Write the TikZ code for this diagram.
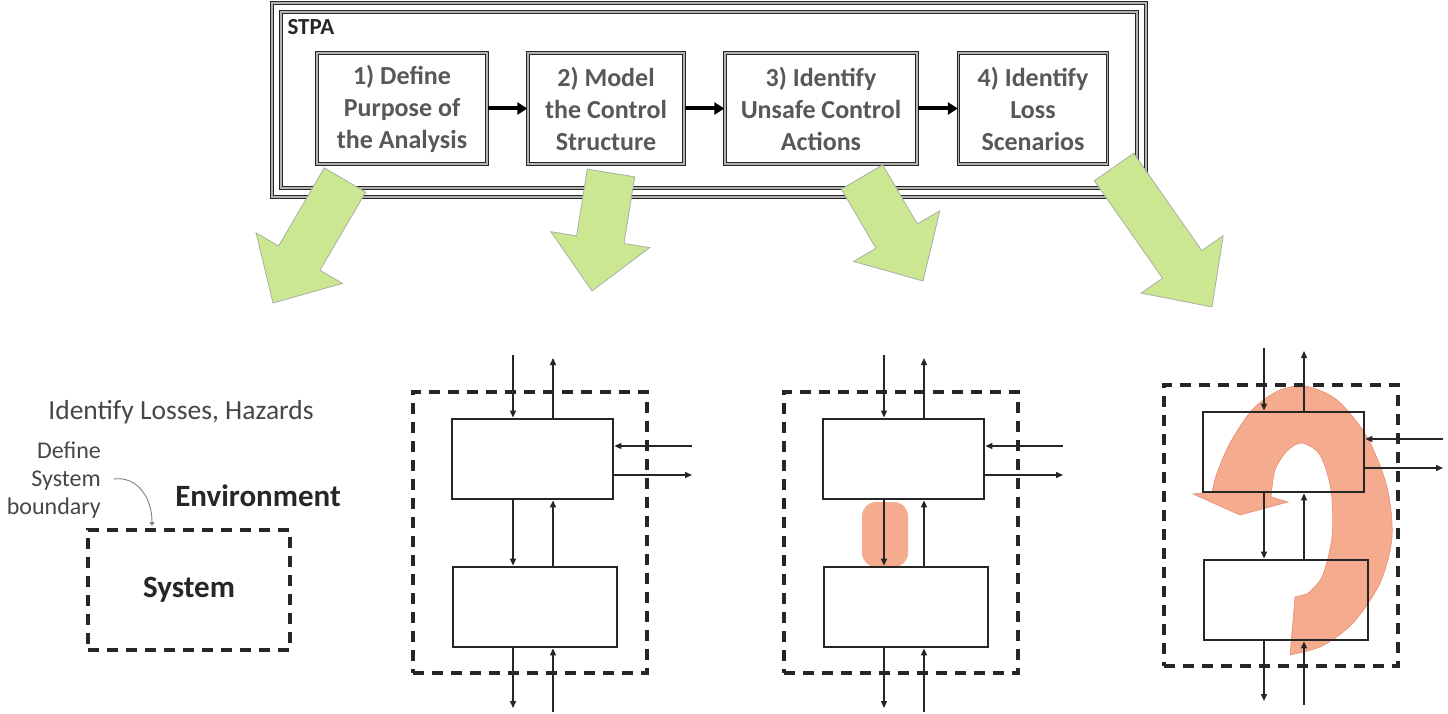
\documentclass[tikz,border=0pt]{standalone}
\usepackage{fontspec}
\setmainfont{Carlito}
\usetikzlibrary{arrows.meta,calc}

\definecolor{leafgreen}{RGB}{203,231,146}
\definecolor{leafedge}{RGB}{170,175,165}
\definecolor{salmon}{RGB}{245,172,142}
\definecolor{salmonedge}{RGB}{230,140,115}
\definecolor{steptext}{RGB}{88,88,88}
\definecolor{ink}{RGB}{38,38,38}
\definecolor{note}{RGB}{70,70,70}

\tikzset{
  framebox/.style={draw=ink, line width=1.3pt, double=gray!60, double distance=1.3pt},
  stepbox/.style={framebox, minimum height=111pt, text=steptext,
    font=\fontsize{26}{32}\selectfont\bfseries, align=center, inner sep=0pt},
  flow/.style={draw=black, line width=4pt, -{Triangle[length=10pt,width=12pt]}},
  ctlbox/.style={draw=ink, line width=2.8pt, inner sep=0pt},
  sysbound/.style={draw=ink, line width=3.2pt, dash pattern=on 11pt off 8pt, inner sep=0pt},
  sig/.style={draw=ink, line width=1.4pt, -{Triangle[length=7pt,width=6pt]}},
  leaf/.style={fill=leafgreen, draw=leafedge, line width=0.8pt, line join=miter},
  notetext/.style={text=note, font=\fontsize{24}{28}\selectfont},
}

% thick green block arrow from tail centre #1 to tip #2
\newcommand{\leafarrow}[2]{%
  \coordinate (#1base) at ($(#2)!52pt!(#1)$);
  \path[leaf] ($(#1)!24pt!90:(#2)$) -- ($(#1base)!24pt!90:(#2)$)
    -- ($(#1base)!50pt!90:(#2)$) -- (#2) -- ($(#1base)!50pt!-90:(#2)$)
    -- ($(#1base)!24pt!-90:(#2)$) -- ($(#1)!24pt!-90:(#2)$) -- cycle;
}

% controller / controlled process pair inside a dashed boundary
\newcommand{\ctlpanel}[3]{%
  \begin{scope}[shift={(#2,#3)}]
    \node[sysbound, minimum width=234pt, minimum height=281pt] (#1sys) at (530,532.5) {};
    \node[ctlbox, minimum width=161pt, minimum height=80pt] (#1up) at (532.5,459) {};
    \node[ctlbox, minimum width=164pt, minimum height=80pt] (#1lo) at (535,607) {};
    \coordinate (#1topin) at (513,355);
    \coordinate (#1topout) at (553,358);
    \coordinate (#1botout) at (513,708);
    \coordinate (#1botin) at (553,712);
    \coordinate (#1rin) at (692,446);
    \coordinate (#1rout) at (692,475);
    \draw[sig] (#1topin) -- (#1topin |- #1up.north);
    \draw[sig] (#1up.north -| #1topout) -- (#1topout);
    \draw[sig] (#1up.south -| #1topin) -- (#1lo.north -| #1topin);
    \draw[sig] (#1lo.north -| #1topout) -- (#1up.south -| #1topout);
    \draw[sig] (#1lo.south -| #1botout) -- (#1botout);
    \draw[sig] (#1botin) -- (#1botin |- #1lo.south);
    \draw[sig] (#1rin) -- (#1rin -| #1up.east);
    \draw[sig] (#1rout -| #1up.east) -- (#1rout);
  \end{scope}%
}

\begin{document}
\begin{tikzpicture}[x=1pt, y=-1pt]
  \useasboundingbox (0,0) rectangle (1448,714);

  % ---- STPA process frame ----
  \node[framebox, minimum width=874pt, minimum height=194pt] (frameout) at (709,100) {};
  \node[framebox, minimum width=856pt, minimum height=176pt] (framein) at (709,100) {};
  \node[anchor=west, text=ink, font=\fontsize{23}{26}\selectfont\bfseries] (stpa) at (284,27) {STPA};

  \node[stepbox, minimum width=170pt] (s1) at (402,108.5) {1) Define\\Purpose of\\the Analysis};
  \node[stepbox, minimum width=156pt] (s2) at (606,108.5) {2) Model\\the Control\\Structure};
  \node[stepbox, minimum width=192pt] (s3) at (821,108.5) {3) Identify\\Unsafe Control\\Actions};
  \node[stepbox, minimum width=149pt] (s4) at (1033,108.5) {4) Identify\\Loss\\Scenarios};
  \draw[flow] (s1) -- (s2);
  \draw[flow] (s2) -- (s3);
  \draw[flow] (s3) -- (s4);

  % ---- green arrows from each step ----
  \coordinate (g1) at (345,180);  \coordinate (g1tip) at (273,303);
  \coordinate (g2) at (611,173);  \coordinate (g2tip) at (592,291);
  \coordinate (g3) at (862,177);  \coordinate (g3tip) at (923,281);
  \coordinate (g4) at (1114,167); \coordinate (g4tip) at (1212,307);
  \leafarrow{g1}{g1tip}
  \leafarrow{g2}{g2tip}
  \leafarrow{g3}{g3tip}
  \leafarrow{g4}{g4tip}

  % ---- step 1: losses, hazards and system boundary ----
  \node[text=note, font=\fontsize{27.5}{30}\selectfont] (losses) at (181,412) {Identify Losses, Hazards};
  \node[notetext, align=right, anchor=east, inner sep=0pt] (bdef) at (101,480) {Define\\System\\boundary};
  \node[text=ink, font=\fontsize{31}{34}\selectfont\bfseries] (env) at (258,496) {Environment};
  \node[sysbound, minimum width=202pt, minimum height=120pt,
        text=ink, font=\fontsize{31}{34}\selectfont\bfseries] (sys) at (189,590) {System};
  \coordinate (bstart) at (114,479);
  \coordinate (bedge) at (152,526);
  \draw[draw=gray, line width=0.9pt, -{Triangle[length=4pt,width=5pt]}]
    (bstart) .. controls (136,476) and (152,496) .. (bedge);

  % ---- step 3 highlight: unsafe control action ----
  \node[fill=salmon, rounded corners=14pt, minimum width=46pt, minimum height=65pt,
        inner sep=0pt] (uca) at (885,534.5) {};

  % ---- step 4 highlight: loss scenario loop ----
  \path[fill=salmon, draw=salmonedge, line width=0.6pt]
    plot[smooth] coordinates {(1290,655) (1322,646) (1353,623) (1380,583) (1392,537)
      (1387,487) (1367,437) (1337,400) (1305,386) (1278,391) (1252,410) (1230,443)
      (1217,473) (1212,492)}
    -- (1193,494) -- (1240,515) -- (1288,502) -- (1271,497)
    -- plot[smooth] coordinates {(1271,497) (1275,470) (1287,451) (1302,443) (1320,455)
      (1331,490) (1332,537) (1322,577) (1307,594)}
    -- (1295,597) -- cycle;

  % ---- control structures ----
  \ctlpanel{p2}{0}{0}
  \ctlpanel{p3}{371}{0}
  \ctlpanel{p4}{751}{-7}
\end{tikzpicture}
\end{document}
